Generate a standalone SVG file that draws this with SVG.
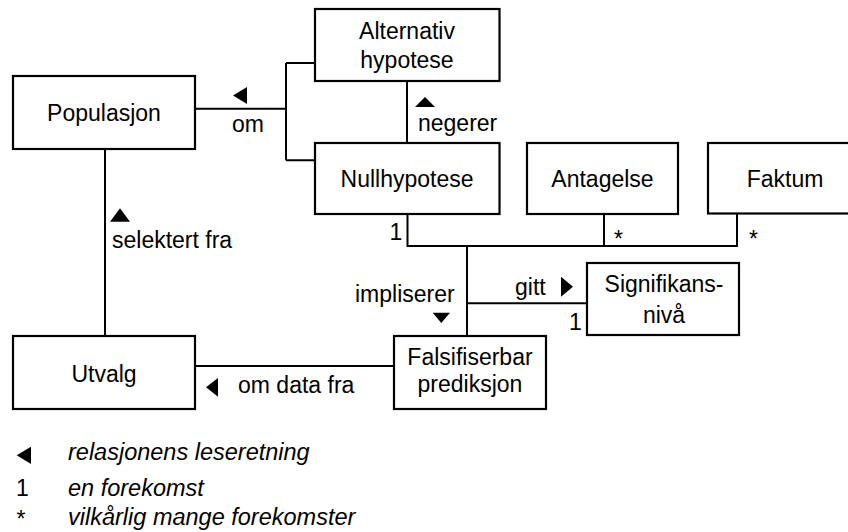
<svg xmlns="http://www.w3.org/2000/svg" width="848" height="532" viewBox="0 0 848 532">
  <style>
    .box { fill: #fff; stroke: #000; stroke-width: 2.2; }
    .ln { fill: none; stroke: #000; stroke-width: 2; }
    .t { font-family: "Liberation Sans", Arial, sans-serif; font-size: 23px; fill: #000; }
    .c { text-anchor: middle; }
    .i { font-style: italic; font-size: 23.5px; }
    .tri { fill: #000; }
  </style>
  <rect width="848" height="532" fill="#fff"/>

  <!-- connectors -->
  <g id="connectors">
    <!-- Populasjon: om hypotesene -->
    <path class="ln" d="M195 108.7H286M286 63V160.3M286 63H315M286 160.3H315"/>
    <!-- Alternativ hypotese negerer Nullhypotese -->
    <path class="ln" d="M407 81V143"/>
    <!-- Utvalg selektert fra Populasjon -->
    <path class="ln" d="M105 149V336"/>
    <!-- Nullhypotese + Antagelse + Faktum impliserer prediksjon -->
    <path class="ln" d="M407.5 214V246M406.5 246H738M604 213V246M737 214V246M467 246V336"/>
    <!-- gitt Signifikansnivå -->
    <path class="ln" d="M467 303.3H587"/>
    <!-- prediksjon om data fra Utvalg -->
    <path class="ln" d="M195 366H394"/>

    <!-- reading direction markers -->
    <polygon class="tri" points="233,95.5 247,87 247,104"/>
    <polygon class="tri" points="425,97 415,107 435,107"/>
    <polygon class="tri" points="120,208.3 110,221.7 130,221.7"/>
    <polygon class="tri" points="561,276.7 561,296.7 573,286.7"/>
    <polygon class="tri" points="432.7,312.7 450,312.7 441.3,323"/>
    <polygon class="tri" points="206,387.3 218,378 218,396.7"/>

    <!-- relation labels -->
    <text class="t" x="232" y="131.5">om</text>
    <text class="t" x="418" y="131">negerer</text>
    <text class="t" x="112" y="248">selektert fra</text>
    <text class="t" x="355" y="301.5">impliserer</text>
    <text class="t" x="515" y="295">gitt</text>
    <text class="t" x="238" y="393">om data fra</text>

    <!-- multiplicities -->
    <text class="t" x="389.5" y="240">1</text>
    <text class="t" x="569" y="330">1</text>
    <text class="t" x="614" y="246.5">*</text>
    <text class="t" x="749" y="246.5">*</text>
  </g>

  <g id="alternativ-hypotese">
    <rect class="box" x="315" y="9" width="184.5" height="72"/>
    <text class="t c" x="407" y="39.3">Alternativ</text>
    <text class="t c" x="407" y="68.3">hypotese</text>
  </g>

  <g id="populasjon">
    <rect class="box" x="13" y="76" width="182" height="73"/>
    <text class="t c" x="104" y="120.5">Populasjon</text>
  </g>

  <g id="nullhypotese">
    <rect class="box" x="315" y="143" width="184.5" height="71"/>
    <text class="t c" x="407" y="187">Nullhypotese</text>
  </g>

  <g id="antagelse">
    <rect class="box" x="527" y="143" width="151" height="71"/>
    <text class="t c" x="602.5" y="187">Antagelse</text>
  </g>

  <g id="faktum">
    <rect class="box" x="708" y="143" width="154" height="70.5"/>
    <text class="t c" x="785" y="187">Faktum</text>
  </g>

  <g id="signifikansniva">
    <rect class="box" x="587" y="263" width="152" height="72"/>
    <text class="t c" x="664" y="291.7">Signifikans-</text>
    <text class="t c" x="664" y="323">nivå</text>
  </g>

  <g id="utvalg">
    <rect class="box" x="13" y="336" width="182" height="73"/>
    <text class="t c" x="104" y="381.5">Utvalg</text>
  </g>

  <g id="falsifiserbar-prediksjon">
    <rect class="box" x="394" y="336" width="152" height="73"/>
    <text class="t c" x="470" y="365">Falsifiserbar</text>
    <text class="t c" x="470" y="392">prediksjon</text>
  </g>

  <!-- legend -->
  <g id="legend">
    <polygon class="tri" points="16.7,455.3 31,446.7 31,464"/>
    <text class="t i" x="68" y="460">relasjonens leseretning</text>
    <text class="t" x="16" y="495.7">1</text>
    <text class="t i" x="68" y="495.7">en forekomst</text>
    <text class="t" x="16.5" y="527">*</text>
    <text class="t i" x="68" y="525">vilkårlig mange forekomster</text>
  </g>
</svg>
